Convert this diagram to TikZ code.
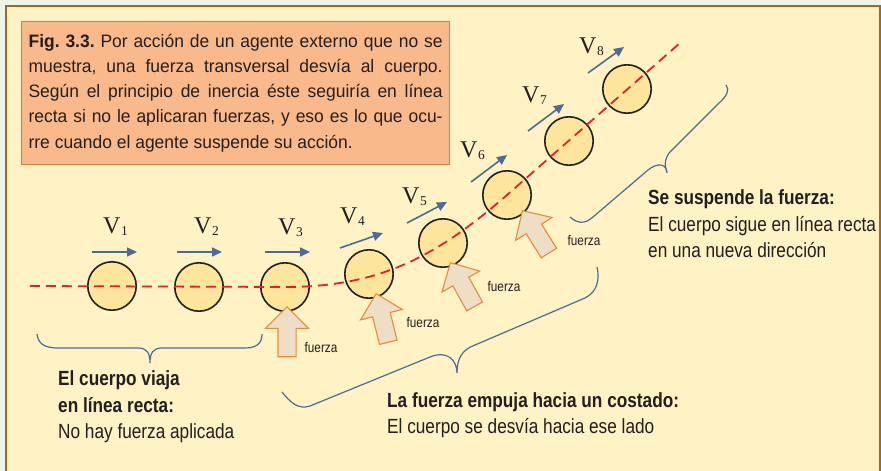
\documentclass[tikz,border=0pt]{standalone}
\usepackage{fontspec}
\setmainfont{Liberation Sans}[FakeStretch=0.84]
\newfontfamily\capfont{Liberation Sans}[FakeStretch=0.97]
\newfontfamily\velfont{Liberation Serif}
\usetikzlibrary{arrows.meta,shapes.arrows}
\definecolor{Outer}{HTML}{EEF5E8}
\definecolor{Panel}{HTML}{FFF2C4}
\definecolor{PanelEdge}{HTML}{A5671E}
\definecolor{CapFill}{HTML}{F9B98A}
\definecolor{CapEdge}{HTML}{D27F3E}
\definecolor{BallFill}{HTML}{FDE69B}
\definecolor{Trail}{HTML}{E4202A}
\definecolor{VelBlue}{HTML}{4A6B9C}
\definecolor{PushFill}{HTML}{EEDEC6}
\definecolor{PushEdge}{HTML}{E98A3A}
\definecolor{Ink}{HTML}{231F20}
\newcommand{\vname}[1]{{\velfont V\kern0.5pt\raisebox{-2.5pt}{\fontsize{13.5}{13.5}\selectfont #1}}}

\begin{document}
\begin{tikzpicture}[x=1pt, y=-1pt, every node/.style={text=Ink},
  ball/.style={circle, draw=Ink, line width=1.6pt, fill=BallFill, minimum size=48.4pt, inner sep=0pt},
  push/.style={single arrow, draw=PushEdge, fill=PushFill, line width=1.1pt, minimum height=50pt,
    inner xsep=0pt, inner ysep=8.5pt, single arrow head extend=12.5pt, single arrow tip angle=90, anchor=tip},
  vel/.style={draw=VelBlue, line width=1.6pt, -{Triangle[length=10pt, width=9pt]}},
  trail/.style={draw=Trail, line width=1.8pt, dash pattern=on 10pt off 6pt},
  brace/.style={draw=VelBlue, line width=1.2pt},
  force/.style={font=\fontsize{14}{14}\selectfont, inner sep=0pt},
  note/.style={font=\fontsize{20.5}{26.8}\selectfont, align=left, inner sep=0pt, anchor=north west},
  vlab/.style={font=\fontsize{24}{24}\selectfont, inner sep=0pt, anchor=base west}]
  \useasboundingbox (0,0) rectangle (881,471);
  \fill[Outer] (0,0) rectangle (881,471);
  \draw[PanelEdge, fill=Panel, line width=2.2pt] (6,6) rectangle (880,490);

  \node[draw=CapEdge, fill=CapFill, line width=1.2pt, anchor=north west, text width=414pt,
    inner xsep=7pt, inner ysep=12.5pt, align=justify,
    font=\capfont\fontsize{18}{25.2}\selectfont\frenchspacing] (caption) at (21,21)
    {\textbf{Fig. 3.3.} Por acción de un agente externo que no se\linebreak
     muestra, una fuerza transversal desvía al cuerpo.\linebreak
     Según el principio de inercia éste seguiría en línea\linebreak
     recta si no le aplicaran fuerzas, y eso es lo que ocu-\linebreak
     rre cuando el agente suspende su acción.};

  % the body along its path
  \node[ball] (b1) at (112,286) {};
  \node[ball] (b2) at (199,287) {};
  \node[ball] (b3) at (285,287) {};
  \node[ball] (b4) at (369,274) {};
  \node[ball] (b5) at (443,243) {};
  \node[ball] (b6) at (507,195) {};
  \node[ball] (b7) at (569,141) {};
  \node[ball] (b8) at (627,89) {};

  \coordinate (tstart) at (30,286);
  \coordinate (tend) at (680,43);
  \draw[trail] (tstart) -- (b3.center) .. controls (379,287) and (436,257) .. (b6.center) -- (tend);

  % velocities
  \coordinate (va1) at (92,252);  \coordinate (vb1) at (137,252);
  \coordinate (va2) at (177,252); \coordinate (vb2) at (222,252);
  \coordinate (va3) at (265,252); \coordinate (vb3) at (310,252);
  \coordinate (va4) at (340,248); \coordinate (vb4) at (383,233);
  \coordinate (va5) at (407,223); \coordinate (vb5) at (447,202);
  \coordinate (va6) at (471,182); \coordinate (vb6) at (507,155);
  \coordinate (va7) at (528,131); \coordinate (vb7) at (564,104);
  \coordinate (va8) at (588,73);  \coordinate (vb8) at (624,47);
  \draw[vel] (va1) -- (vb1);
  \draw[vel] (va2) -- (vb2);
  \draw[vel] (va3) -- (vb3);
  \draw[vel] (va4) -- (vb4);
  \draw[vel] (va5) -- (vb5);
  \draw[vel] (va6) -- (vb6);
  \draw[vel] (va7) -- (vb7);
  \draw[vel] (va8) -- (vb8);

  \node[vlab] (v1) at (103,233) {\vname{1}};
  \node[vlab] (v2) at (194,233) {\vname{2}};
  \node[vlab] (v3) at (278,234) {\vname{3}};
  \node[vlab] (v4) at (340,223) {\vname{4}};
  \node[vlab] (v5) at (402,203) {\vname{5}};
  \node[vlab] (v6) at (460,157) {\vname{6}};
  \node[vlab] (v7) at (522,102) {\vname{7}};
  \node[vlab] (v8) at (579,53) {\vname{8}};

  % pushes
  \node[push, rotate=90] (f3) at (287,306) {};
  \node[push, rotate=104] (f4) at (376,293) {};
  \node[push, rotate=119] (f5) at (450,262) {};
  \node[push, rotate=122] (f6) at (522,210) {};
  \node[force] (l3) at (321,347) {fuerza};
  \node[force] (l4) at (423,322) {fuerza};
  \node[force] (l5) at (504,286) {fuerza};
  \node[force] (l6) at (584,241) {fuerza};

  % braces
  \draw[brace] (37,334) .. controls (38,344) and (45,348) .. (58,348) -- (138,348)
    .. controls (147,348) and (150,353) .. (150,363) .. controls (150,353) and (153,348) .. (162,348)
    -- (245,348) .. controls (257,348) and (262,343) .. (262,334);
  \draw[brace] (282,392) .. controls (290,402) and (298,410) .. (310,406) -- (430,357)
    .. controls (447,350) and (457,360) .. (457,373) .. controls (457,358) and (462,350) .. (475,345)
    -- (585,298) .. controls (597,292) and (600,280) .. (597,267);
  \draw[brace] (570,217) .. controls (578,224) and (585,224) .. (593,217) -- (648,170)
    .. controls (658,162) and (667,164) .. (667,173) .. controls (664,163) and (665,158) .. (670,152)
    -- (718,104) .. controls (727,96) and (730,90) .. (726,85);

  \node[note] (straight) at (58,370.3) {\textbf{El cuerpo viaja}\\ \textbf{en línea recta:}\\ No hay fuerza aplicada};
  \node[note] (deviate) at (387,392) {\textbf{La fuerza empuja hacia un costado:}\\ El cuerpo se desvía hacia ese lado};
  \node[note] (release) at (648,189.3) {\textbf{Se suspende la fuerza:}\\ El cuerpo sigue en línea recta\\ en una nueva dirección};
\end{tikzpicture}
\end{document}
